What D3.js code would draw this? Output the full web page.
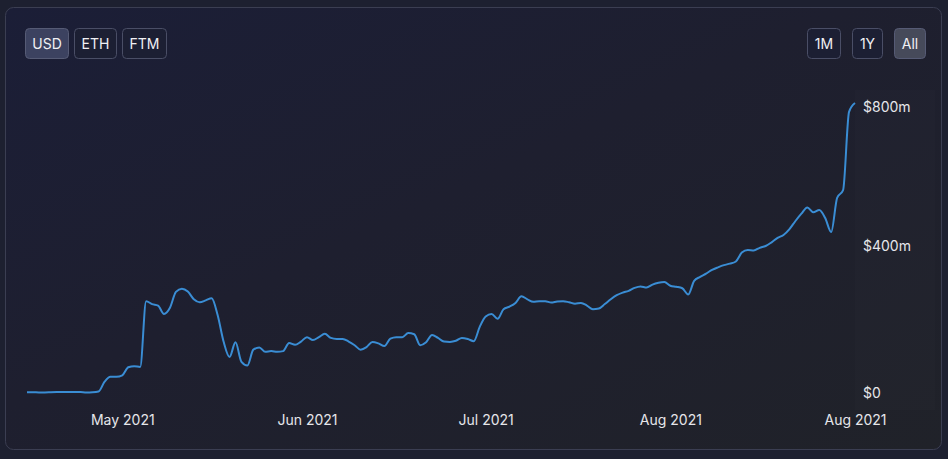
<!DOCTYPE html>
<html>
<head>
<meta charset="utf-8">
<script src="https://cdn.jsdelivr.net/npm/d3@7"></script>
<style>
  html, body { margin: 0; padding: 0; background: #1d2030; }
  svg { display: block; font-family: Inter, "Noto Sans", sans-serif; }
</style>
</head>
<body>
<svg id="chart" width="948" height="459"></svg>
<script>
// ---- data ----
const startDate = "2021-04-15";
const tvlValues = [
  2, 2, 1.5, 1.5, 2, 2.5, 3, 3, 3, 2.5,
  1.5, 2, 4, 30, 44, 44, 48, 70, 73, 71,
  250, 242, 238, 215, 232, 275, 284, 276, 255, 247,
  252, 258, 212, 140, 98, 138, 85, 75, 118, 124,
  112, 114, 112, 114, 136, 131, 140, 152, 144, 152,
  161, 150, 147, 147, 140, 130, 118, 125, 139, 135,
  128, 148, 152, 152, 163, 160, 130, 138, 158, 150,
  140, 139, 142, 150, 147, 141, 180, 208, 215, 202,
  228, 235, 245, 263, 255, 248, 250, 250, 246, 249,
  250, 247, 243, 245, 238, 228, 230, 242, 255, 266,
  273, 278, 286, 290, 287, 295, 300, 302, 292, 289,
  285, 268, 305, 316, 325, 335, 342, 348, 352, 358,
  382, 389, 388, 395, 400, 410, 422, 430, 446, 468,
  488, 505, 492, 498, 476, 438, 531, 552, 765, 789
];
const xTickDates = ["2021-05-01", "2021-06-01", "2021-07-01", "2021-08-01", "2021-09-01"];
const xTickLabels = ["May 2021", "Jun 2021", "Jul 2021", "Aug 2021", "Aug 2021"];
const yTickValues = [0, 400, 800];
const yTickLabels = ["$0", "$400m", "$800m"];
const currencyButtons = ["USD", "ETH", "FTM"];
const rangeButtons = ["1M", "1Y", "All"];

// ---- build ----
const parse = d3.utcParse("%Y-%m-%d");
const t0 = parse(startDate);
const data = tvlValues.map((v, i) => ({ date: d3.utcDay.offset(t0, i), value: v }));

const svg = d3.select("#chart");
const W = 948, H = 459;

const defs = svg.append("defs");
const grad = defs.append("linearGradient").attr("id", "bg")
  .attr("x1", "0%").attr("y1", "0%").attr("x2", "100%").attr("y2", "100%");
grad.append("stop").attr("offset", "0%").attr("stop-color", "#1b1e37");
grad.append("stop").attr("offset", "45%").attr("stop-color", "#1e1f2f");
grad.append("stop").attr("offset", "100%").attr("stop-color", "#202229");

svg.append("rect").attr("width", W).attr("height", H).attr("fill", "#1d2030");
svg.append("rect").attr("x", 5.5).attr("y", 7.5).attr("width", 936).attr("height", 442)
  .attr("rx", 8).attr("fill", "url(#bg)").attr("stroke", "#3b3e52").attr("stroke-width", 1);

// price-scale area subtle band
svg.append("rect").attr("x", 855).attr("y", 90).attr("width", 80).attr("height", 320)
  .attr("fill", "#ffffff").attr("opacity", 0.012);

const x = d3.scaleUtc()
  .domain([data[0].date, data[data.length - 1].date])
  .range([27, 855]);
const y = d3.scaleLinear().domain([0, 800]).range([393, 99]);

// line
const line = d3.line()
  .x(d => x(d.date))
  .y(d => y(d.value))
  .curve(d3.curveMonotoneX);

svg.append("path").datum(data)
  .attr("d", line)
  .attr("fill", "none")
  .attr("stroke", "#3a8dd4")
  .attr("stroke-width", 2)
  .attr("stroke-linejoin", "round");

// x axis
const xAxis = d3.axisBottom(x)
  .tickValues(xTickDates.map(parse))
  .tickFormat((d, i) => xTickLabels[i])
  .tickSize(0).tickPadding(0);
const gx = svg.append("g").attr("transform", "translate(0,420)").call(xAxis);
gx.select(".domain").remove();
gx.selectAll("text").attr("fill", "#e6e6ea").attr("font-size", 14).attr("dy", "0.35em")
  .attr("font-family", "Inter, 'Noto Sans', sans-serif");

// y axis (labels clamped inside the pane top)
const gy = svg.append("g");
gy.selectAll("text").data(yTickValues).join("text")
  .attr("x", 863)
  .attr("y", d => Math.max(y(d), 107))
  .attr("dy", "0.35em")
  .attr("fill", "#e6e6ea")
  .attr("font-size", 14)
  .text((d, i) => yTickLabels[i]);

// buttons
function drawButtons(labels, xs, widths, selectedIdx, selFill) {
  const g = svg.append("g");
  labels.forEach((lab, i) => {
    const sel = i === selectedIdx;
    g.append("rect")
      .attr("x", xs[i] + 0.5).attr("y", 28.5)
      .attr("width", widths[i]).attr("height", 30)
      .attr("rx", 4)
      .attr("fill", sel ? selFill : "#1c1f33")
      .attr("stroke", sel ? "#565b75" : "#4a4e66")
      .attr("stroke-width", 1);
    g.append("text")
      .attr("x", xs[i] + 0.5 + widths[i] / 2).attr("y", 44)
      .attr("dy", "0.35em").attr("text-anchor", "middle")
      .attr("fill", "#f0f0f4").attr("font-size", 14)
      .text(lab);
  });
}
drawButtons(currencyButtons, [25, 74, 122], [43, 42, 44], 0, "#3c4260");
drawButtons(rangeButtons, [807, 852, 894], [33, 30, 31], 2, "#464a5a");
</script>
</body>
</html>
